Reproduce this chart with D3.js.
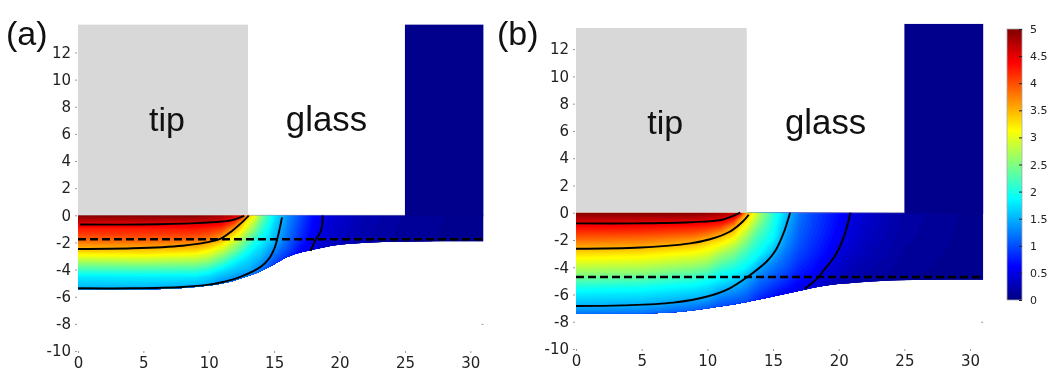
<!DOCTYPE html>
<html>
<head>
<meta charset="utf-8">
<script src="https://d3js.org/d3.v7.min.js"></script>
<style>
	html, body { margin: 0; padding: 0; background: #fff; }
	svg { display: block; filter: blur(0.4px); }
	.tick text { fill: #222; }
	.big-label { font-family: "Liberation Sans", Arial, sans-serif; fill: #111; }
</style>
</head>
<body>
<div id="chart"></div>
<script>
// axis ticks
const xTicks = [0, 5, 10, 15, 20, 25, 30];
const yTicks = [12, 10, 8, 6, 4, 2, 0, -2, -4, -6, -8, -10];
const barTicks = [0, 0.5, 1, 1.5, 2, 2.5, 3, 3.5, 4, 4.5, 5];

// jet colour stops (value, colour)
const jetValues = [0, 0.625, 1.875, 3.125, 4.375, 5];
const jetColors = ['#00007f', '#0000ff', '#00ffff', '#ffff00', '#ff0000', '#7f0000'];

// panel (a): potential, one list per column, top row first
const colsA = [0, 5, 9, 10, 11, 12, 12.5, 13, 13.5, 14, 15, 16, 17, 18, 19, 20, 22, 25, 31];
const rowsA = [0, -0.5, -1, -1.5, -2, -2.5, -3, -3.5, -4, -4.5, -5, -5.5, -6];
const fieldA = [
	[5, 4.62, 4.25, 4.03, 3.78, 3.45, 3.07, 2.62, 2.2, 1.8, 1.63, 1.47, 1.3],
	[5, 4.62, 4.25, 4.05, 3.8, 3.46, 3.1, 2.66, 2.22, 1.82, 1.64, 1.47, 1.3],
	[5, 4.6, 4.27, 4.03, 3.72, 3.4, 2.98, 2.6, 2.18, 1.8, 1.58, 1.33, 1.1],
	[4.95, 4.56, 4.2, 3.93, 3.6, 3.22, 2.86, 2.48, 2.05, 1.7, 1.5, 1.25, 1],
	[4.85, 4.48, 4.08, 3.7, 3.33, 2.93, 2.55, 2.18, 1.8, 1.55, 1.3, 1.05, 0.85],
	[4.7, 4.1, 3.55, 3.2, 2.8, 2.5, 2.15, 1.82, 1.62, 1.42, 1.15, 0.9, 0.7],
	[4.55, 3.55, 3.25, 2.9, 2.55, 2.25, 1.93, 1.7, 1.55, 1.32, 1.05, 0.85, 0.65],
	[3.5, 3.12, 2.85, 2.55, 2.25, 1.98, 1.78, 1.63, 1.5, 1.2, 0.98, 0.78, 0.6],
	[3.12, 2.8, 2.55, 2.28, 1.98, 1.8, 1.65, 1.52, 1.35, 1.1, 0.9, 0.72, 0.55],
	[2.55, 2.35, 2.15, 1.98, 1.82, 1.68, 1.55, 1.38, 1.2, 0.95, 0.78, 0.62, 0.5],
	[1.8, 1.72, 1.65, 1.58, 1.48, 1.32, 1.15, 0.98, 0.8, 0.68, 0.55, 0.45, 0.38],
	[1.35, 1.3, 1.25, 1.2, 1.1, 1, 0.85, 0.7, 0.58, 0.48, 0.4, 0.33, 0.28],
	[1, 0.95, 0.9, 0.85, 0.75, 0.65, 0.55, 0.47, 0.4, 0.34, 0.29, 0.25, 0.22],
	[0.65, 0.62, 0.6, 0.56, 0.5, 0.45, 0.4, 0.35, 0.3, 0.26, 0.23, 0.2, 0.18],
	[0.47, 0.45, 0.43, 0.41, 0.38, 0.35, 0.3, 0.27, 0.24, 0.21, 0.19, 0.17, 0.15],
	[0.38, 0.36, 0.35, 0.33, 0.3, 0.28, 0.25, 0.22, 0.2, 0.18, 0.16, 0.15, 0.14],
	[0.24, 0.23, 0.22, 0.21, 0.2, 0.19, 0.18, 0.16, 0.15, 0.14, 0.13, 0.12, 0.11],
	[0.14, 0.14, 0.13, 0.13, 0.12, 0.12, 0.11, 0.11, 0.1, 0.1, 0.09, 0.09, 0.09],
	[0.06, 0.06, 0.06, 0.06, 0.06, 0.06, 0.06, 0.06, 0.06, 0.06, 0.06, 0.06, 0.06]
];
const bottomA = [[0, -5.45], [5, -5.45], [8, -5.35], [10, -5.18], [11, -5.02], [12, -4.8], [13, -4.47], [14, -4.1], [15, -3.6], [16, -3.08], [17, -2.75], [18, -2.52], [19.5, -2.22], [22, -2.02], [24.6, -1.94], [31, -1.92]];
const isoA = [
	[[0.15, -0.68], [5, -0.68], [9, -0.58], [11, -0.46], [11.8, -0.36], [12.7, -0.05]],
	[[0, -2.48], [4.2, -2.43], [8, -2.24], [9.8, -2], [10.95, -1.7], [11.8, -1.13], [12.6, -0.47], [13.05, -0.03]],
	[[0, -5.38], [4.2, -5.38], [8, -5.28], [10, -5.11], [11, -4.93], [12, -4.68], [13, -4.3], [14, -3.78], [14.6, -3.2], [15, -2.5], [15.3, -1.5], [15.6, -0.15]],
	[[18.7, -0.02], [18.6, -1.08], [18.1, -1.94], [17.8, -2.63]]
];

// panel (b)
const colsB = [0, 5, 9, 10, 11, 12, 12.5, 13, 13.5, 14, 15, 16, 17, 18, 19, 20, 21, 22, 25, 31];
const rowsB = [0, -0.5, -1, -1.5, -2, -2.5, -3, -3.5, -4, -4.5, -5, -5.5, -6, -6.5, -7, -7.5];
const fieldB = [
	[5, 4.68, 4.38, 4.1, 3.85, 3.57, 3.3, 3.05, 2.8, 2.55, 2.27, 1.98, 1.78, 1.62, 1.43, 1.15],
	[5, 4.66, 4.36, 4.08, 3.8, 3.53, 3.25, 3, 2.75, 2.5, 2.2, 1.92, 1.75, 1.58, 1.38, 1.12],
	[5, 4.62, 4.28, 3.97, 3.63, 3.35, 3.08, 2.82, 2.55, 2.28, 2.02, 1.8, 1.62, 1.4, 1.18, 0.95],
	[4.95, 4.57, 4.22, 3.85, 3.47, 3.2, 2.98, 2.72, 2.45, 2.18, 1.92, 1.72, 1.55, 1.33, 1.08, 0.88],
	[4.85, 4.52, 4.1, 3.62, 3.3, 3.02, 2.7, 2.45, 2.18, 1.95, 1.78, 1.57, 1.35, 1.15, 0.95, 0.75],
	[4.7, 4.25, 3.65, 3.35, 3.05, 2.75, 2.5, 2.27, 2.03, 1.83, 1.65, 1.45, 1.25, 1.07, 0.88, 0.7],
	[4.5, 3.62, 3.3, 3.03, 2.78, 2.55, 2.3, 2.1, 1.93, 1.75, 1.55, 1.37, 1.2, 1.03, 0.85, 0.68],
	[3.55, 3.3, 3.03, 2.78, 2.55, 2.33, 2.15, 1.98, 1.83, 1.62, 1.42, 1.28, 1.13, 1, 0.82, 0.65],
	[3.13, 2.9, 2.68, 2.45, 2.28, 2.13, 1.98, 1.87, 1.65, 1.43, 1.3, 1.13, 1, 0.85, 0.7, 0.58],
	[2.72, 2.58, 2.4, 2.23, 2.1, 1.98, 1.87, 1.63, 1.45, 1.3, 1.15, 1.03, 0.88, 0.75, 0.62, 0.5],
	[2.1, 2.03, 1.97, 1.9, 1.82, 1.66, 1.5, 1.35, 1.22, 1.1, 1, 0.85, 0.72, 0.6, 0.5, 0.42],
	[1.6, 1.55, 1.47, 1.42, 1.35, 1.27, 1.18, 1.1, 1.03, 0.93, 0.82, 0.7, 0.6, 0.5, 0.42, 0.36],
	[1.2, 1.17, 1.13, 1.09, 1.05, 1.01, 0.95, 0.88, 0.8, 0.73, 0.65, 0.55, 0.48, 0.42, 0.36, 0.3],
	[0.98, 0.96, 0.94, 0.91, 0.88, 0.84, 0.8, 0.74, 0.68, 0.62, 0.54, 0.46, 0.4, 0.35, 0.3, 0.26],
	[0.82, 0.8, 0.78, 0.75, 0.72, 0.68, 0.64, 0.58, 0.5, 0.44, 0.38, 0.34, 0.3, 0.27, 0.24, 0.2],
	[0.66, 0.64, 0.62, 0.59, 0.56, 0.5, 0.45, 0.4, 0.36, 0.32, 0.28, 0.25, 0.22, 0.2, 0.18, 0.16],
	[0.48, 0.47, 0.45, 0.43, 0.41, 0.38, 0.35, 0.31, 0.28, 0.25, 0.22, 0.2, 0.18, 0.17, 0.15, 0.13],
	[0.38, 0.37, 0.36, 0.34, 0.32, 0.3, 0.28, 0.25, 0.22, 0.2, 0.18, 0.16, 0.15, 0.14, 0.13, 0.12],
	[0.18, 0.18, 0.17, 0.17, 0.16, 0.15, 0.14, 0.13, 0.12, 0.11, 0.1, 0.1, 0.09, 0.09, 0.09, 0.08],
	[0.06, 0.06, 0.06, 0.06, 0.06, 0.06, 0.06, 0.06, 0.06, 0.06, 0.06, 0.06, 0.06, 0.06, 0.06, 0.06]
];
const bottomB = [[0, -7.4], [4.9, -7.4], [8.7, -7.2], [11.2, -6.85], [13, -6.55], [15, -6.15], [17.3, -5.67], [18.8, -5.38], [21.4, -5.13], [25.7, -4.94], [31, -4.92]];
const isoB = [
	[[0, -0.78], [4.5, -0.78], [8.7, -0.7], [11.2, -0.5], [12.5, 0]],
	[[0, -2.64], [4.9, -2.55], [8.7, -2.25], [10.2, -1.95], [11.7, -1.4], [12.7, -0.65], [13.15, -0.15]],
	[[0, -6.85], [3.6, -6.8], [7.4, -6.6], [10, -6.15], [11.7, -5.55], [13, -4.75], [14.5, -3.6], [15.2, -2.75], [15.8, -1.5], [16.3, 0]],
	[[20.9, 0], [20.4, -1.75], [19.7, -3.2], [18.8, -4.3], [18.45, -4.75], [17.4, -5.6]]
];

const width = 1063;
const height = 381;

const svg = d3.select('#chart').append('svg')
	.attr('width', width)
	.attr('height', height);

const jet = d3.scaleLinear()
	.domain(jetValues)
	.range(jetColors);

// filled bands over the value grid, 0.05 apart
const thresholds = d3.range(0, 5, 0.05);

const drawPanel = (p) => {
	const x = d3.scaleLinear().domain([0, 31]).range(p.xRange);
	const y = d3.scaleLinear().domain([0, -10]).range(p.yRange);
	const g = svg.append('g');

	// value field, clipped to the sample outline
	const area = d3.area()
		.x(d => x(d[0]))
		.y0(y(0))
		.y1(d => y(d[1]))
		.curve(d3.curveMonotoneX);
	g.append('clipPath')
		.attr('id', `clip-${p.name}`)
		.append('path')
		.attr('d', area(p.bottom));

	// grid cell index -> data position (d3.contours samples sit at i + 0.5)
	const gx = d3.scaleLinear().domain(p.cols.map((d, i) => i + 0.5)).range(p.cols.map(x)).clamp(true);
	const gy = d3.scaleLinear().domain(p.rows.map((d, i) => i + 0.5)).range(p.rows.map(y)).clamp(true);
	const path = d3.geoPath(d3.geoTransform({
		point(a, b) { this.stream.point(gx(a), gy(b)); }
	}));
	const contours = d3.contours()
		.size([p.cols.length, p.rows.length])
		.thresholds(thresholds)(d3.transpose(p.field).flat());

	g.append('g')
		.attr('clip-path', `url(#clip-${p.name})`)
		.selectAll('path')
		.data(contours)
		.enter()
		.append('path')
		.attr('d', path)
		.attr('fill', d => jet(d.value + 0.025));

	// tip and glass wall
	g.append('rect')
		.attr('x', x(0))
		.attr('y', y(p.tipTop))
		.attr('width', x(13) - x(0))
		.attr('height', y(0) - y(p.tipTop))
		.attr('fill', '#d8d8d8');
	g.append('rect')
		.attr('x', x(25))
		.attr('y', y(p.glassTop))
		.attr('width', x(31) - x(25))
		.attr('height', y(0) - y(p.glassTop) + 1)
		.attr('fill', jet(0.07));
	g.append('line')
		.attr('x1', x(13))
		.attr('x2', x(25))
		.attr('y1', y(0))
		.attr('y2', y(0))
		.attr('stroke', '#8a8fb5')
		.attr('stroke-width', 0.6);

	// contour lines
	const line = d3.line()
		.x(d => x(d[0]))
		.y(d => y(d[1]))
		.curve(d3.curveCatmullRom);
	g.selectAll('.iso')
		.data(p.iso)
		.enter()
		.append('path')
		.attr('class', 'iso')
		.attr('d', line)
		.attr('fill', 'none')
		.attr('stroke', '#000')
		.attr('stroke-width', 1.9);

	g.append('line')
		.attr('x1', x(0))
		.attr('x2', x(31))
		.attr('y1', y(p.dashed))
		.attr('y2', y(p.dashed))
		.attr('stroke', '#000')
		.attr('stroke-width', 2.4)
		.attr('stroke-dasharray', '8,4');

	// axes
	const xAxis = d3.axisBottom(x)
		.tickValues(xTicks)
		.tickSize(2)
		.tickPadding(4)
		.tickFormat(d => String(d));
	const yAxis = d3.axisLeft(y)
		.tickValues(yTicks)
		.tickSize(2)
		.tickPadding(4)
		.tickFormat(d => String(d));
	const xAxisG = g.append('g')
		.attr('transform', `translate(0, ${y(-10)})`)
		.call(xAxis);
	const yAxisG = g.append('g')
		.attr('transform', `translate(${x(0) - 1}, 0)`)
		.call(yAxis);
	const rightG = g.append('g')
		.attr('transform', `translate(${x(31)}, 0)`)
		.call(d3.axisLeft(y).tickValues([-8]).tickSize(2).tickFormat(''));
	[xAxisG, yAxisG, rightG].forEach(a => {
		a.select('.domain').remove();
		a.selectAll('.tick line').attr('stroke', '#999');
		a.style('font-family', '"DejaVu Sans", sans-serif').style('font-size', '15px');
	});

	// labels
	g.append('text').attr('class', 'big-label')
		.attr('x', p.letterX).attr('y', 45)
		.style('font-size', '34px')
		.text(p.letter);
	g.append('text').attr('class', 'big-label')
		.attr('x', x(6.8)).attr('y', p.wordY)
		.attr('text-anchor', 'middle')
		.style('font-size', '34px')
		.text('tip');
	g.append('text').attr('class', 'big-label')
		.attr('x', x(19)).attr('y', p.wordY)
		.attr('text-anchor', 'middle')
		.style('font-size', '34.8px')
		.text('glass');
};

drawPanel({
	name: 'a', letter: '(a)', letterX: 6,
	xRange: [78, 483.4], yRange: [215.3, 351],
	cols: colsA, rows: rowsA, field: fieldA,
	bottom: bottomA, iso: isoA, dashed: -1.77,
	tipTop: 14.05, glassTop: 14.05, wordY: 131
});
drawPanel({
	name: 'b', letter: '(b)', letterX: 497,
	xRange: [576, 983.2], yRange: [212.7, 349],
	cols: colsB, rows: rowsB, field: fieldB,
	bottom: bottomB, iso: isoB, dashed: -4.72,
	tipTop: 13.55, glassTop: 13.85, wordY: 134
});

// colour bar
const barScale = d3.scaleLinear().domain([0, 5]).range([300, 29]);
const gradient = svg.append('defs').append('linearGradient')
	.attr('id', 'jet-bar')
	.attr('x1', '0%').attr('x2', '0%')
	.attr('y1', '100%').attr('y2', '0%');
gradient.selectAll('stop')
	.data(jetValues)
	.enter()
	.append('stop')
	.attr('offset', d => `${d / 5 * 100}%`)
	.attr('stop-color', d => jet(d));
svg.append('rect')
	.attr('x', 1007)
	.attr('y', barScale(5))
	.attr('width', 15)
	.attr('height', barScale(0) - barScale(5))
	.attr('fill', 'url(#jet-bar)')
	.attr('stroke', '#aaa')
	.attr('stroke-width', 0.8);
const barAxis = svg.append('g')
	.attr('transform', 'translate(1022, 0)')
	.call(d3.axisRight(barScale)
		.tickValues(barTicks)
		.tickSize(-3)
		.tickPadding(8)
		.tickFormat(d => String(d)))
	.style('font-family', '"DejaVu Sans", sans-serif')
	.style('font-size', '11px');
barAxis.select('.domain').remove();
barAxis.selectAll('.tick line').attr('stroke', '#222');
</script>
</body>
</html>
